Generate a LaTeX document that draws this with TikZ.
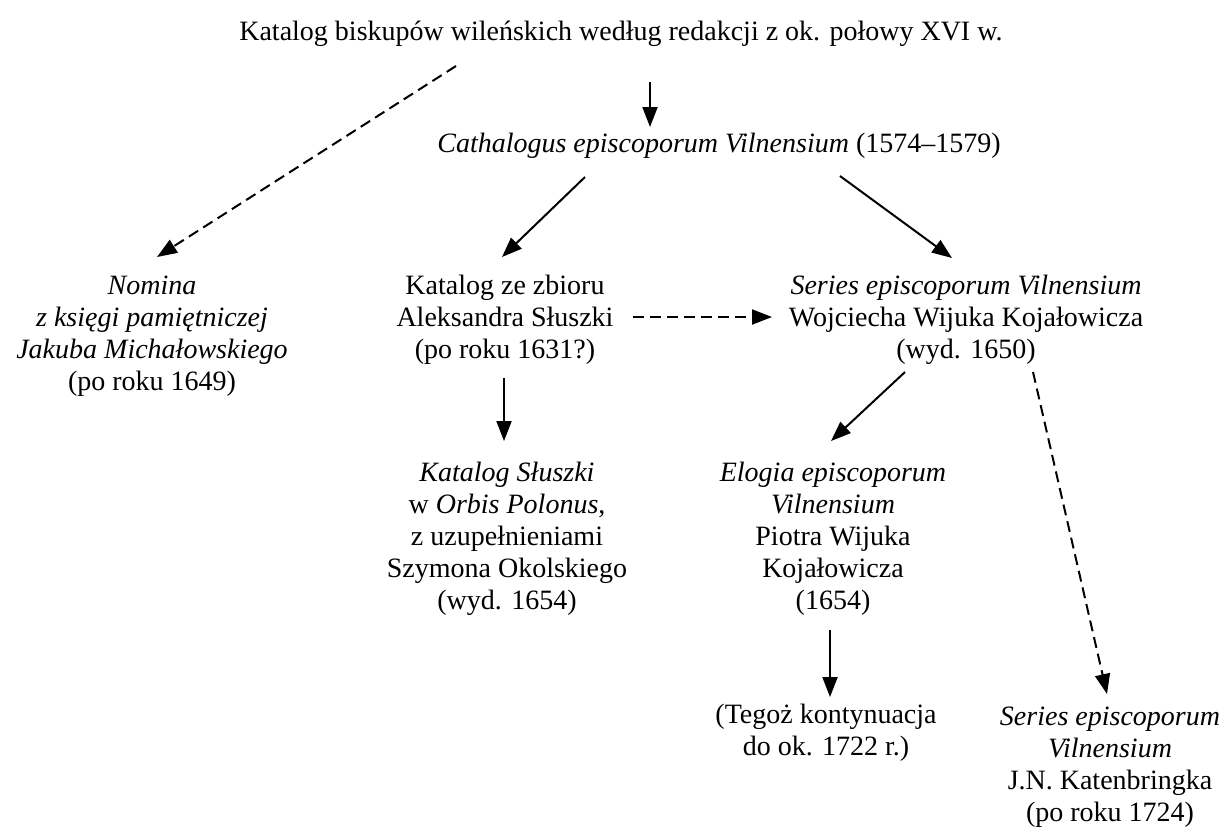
\documentclass[tikz,border=0pt]{standalone}
\usepackage{fontspec}
\setmainfont{Liberation Serif}
\usetikzlibrary{arrows.meta}
\begin{document}
\begin{tikzpicture}[x=0.5pt,y=-0.5pt,
  txt/.style={align=center,inner sep=0pt,font=\fontsize{14pt}{16pt}\selectfont},
  arr/.style={line width=1pt,-{Triangle[length=10pt,width=7.5pt]}},
  darr/.style={arr,dash pattern=on 5.5pt off 3pt}]
\useasboundingbox (0,0) rectangle (1224,832);
\node[txt] (title) at (621,34) {Katalog biskupów wileńskich według redakcji z ok. połowy XVI w.};
\node[txt] (cath) at (719,146) {\textit{Cathalogus episcoporum Vilnensium} (1574--1579)};
\node[txt] (nom) at (152,336) {\textit{Nomina}\\\textit{z księgi pamiętniczej}\\\textit{Jakuba Michałowskiego}\\(po roku 1649)};
\node[txt] (kat) at (505,320) {Katalog ze zbioru\\Aleksandra Słuszki\\(po roku 1631?)};
\node[txt] (ser) at (966,320) {\textit{Series episcoporum Vilnensium}\\Wojciecha Wijuka Kojałowicza\\(wyd. 1650)};
\node[txt] (slu) at (507,539) {\textit{Katalog Słuszki}\\w \textit{Orbis Polonus},\\z uzupełnieniami\\Szymona Okolskiego\\(wyd. 1654)};
\node[txt] (elo) at (833,539) {\textit{Elogia episcoporum}\\\textit{Vilnensium}\\Piotra Wijuka\\Kojałowicza\\(1654)};
\node[txt] (teg) at (826,733) {(Tegoż kontynuacja\\do ok. 1722 r.)};
\node[txt] (kat2) at (1110,767) {\textit{Series episcoporum}\\\textit{Vilnensium}\\J.N. Katenbringka\\(po roku 1724)};
% connector end points
\coordinate (t1) at (650,82);
\coordinate (c1) at (650,127);
\coordinate (t2) at (456,66);
\coordinate (n1) at (157,257);
\coordinate (c2) at (585,177);
\coordinate (k1) at (502,257);
\coordinate (c3) at (840,176);
\coordinate (s1) at (952,258);
\coordinate (k2) at (504,378);
\coordinate (sl1) at (504,441);
\coordinate (k3) at (633,317);
\coordinate (s2) at (772,317);
\coordinate (s3) at (905,372);
\coordinate (e1) at (831,441);
\coordinate (s4) at (1033,372);
\coordinate (kb1) at (1107,694);
\coordinate (e2) at (830,630);
\coordinate (tg1) at (830,697);
\draw[arr] (t1) -- (c1);
\draw[darr] (t2) -- (n1);
\draw[arr] (c2) -- (k1);
\draw[arr] (c3) -- (s1);
\draw[arr] (k2) -- (sl1);
\draw[darr] (k3) -- (s2);
\draw[arr] (s3) -- (e1);
\draw[darr] (s4) -- (kb1);
\draw[arr] (e2) -- (tg1);
\end{tikzpicture}
\end{document}
